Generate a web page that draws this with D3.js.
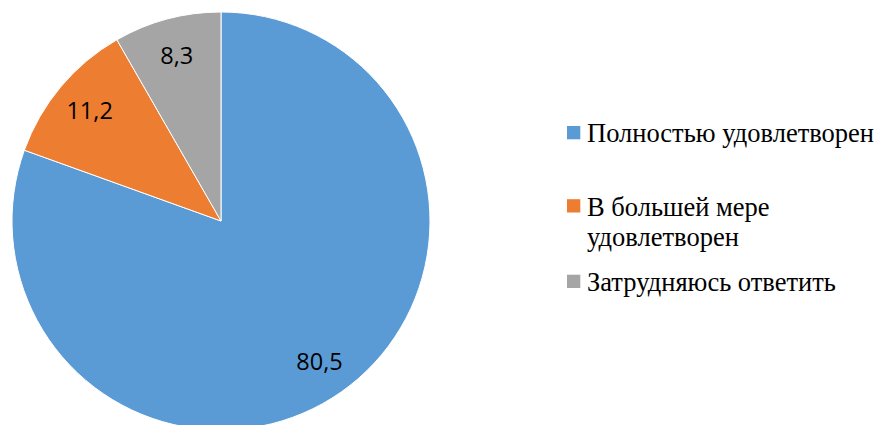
<!DOCTYPE html>
<html>
<head>
<meta charset="utf-8">
<script src="https://cdn.jsdelivr.net/npm/d3@7"></script>
<style>
html,body{margin:0;padding:0;background:#fff;}
svg{display:block;}
.legend text{font-family:"Liberation Serif","Times New Roman",serif;font-size:26.5px;}
.vlabel{font-family:"Open Sans",sans-serif;font-size:23.5px;}
</style>
</head>
<body>
<svg id="chart" width="879" height="425"></svg>
<script>
const categories = ["Полностью удовлетворен", "В большей мере удовлетворен", "Затрудняюсь ответить"];
const legendLines = [["Полностью удовлетворен"], ["В большей мере", "удовлетворен"], ["Затрудняюсь ответить"]];
const values = [80.5, 11.2, 8.3];
const valueLabels = ["80,5", "11,2", "8,3"];
const colors = ["#5B9BD5", "#ED7D31", "#A5A5A5"];

const svg = d3.select("#chart");
const cx = 221, cy = 221, r = 209;

const pie = d3.pie().sort(null).value(d => d)(values);
const arc = d3.arc().innerRadius(0).outerRadius(r);
const labelArc = d3.arc().innerRadius(r * 0.82).outerRadius(r * 0.82);

const g = svg.append("g").attr("transform", `translate(${cx},${cy})`);
g.selectAll("path").data(pie).join("path")
  .attr("d", arc)
  .attr("fill", (d, i) => colors[i])
  .attr("stroke", "#fff")
  .attr("stroke-width", 1);

g.selectAll("text").data(pie).join("text")
  .attr("class", "vlabel")
  .attr("transform", d => `translate(${labelArc.centroid(d)})`)
  .attr("text-anchor", "middle")
  .attr("dy", "0.36em")
  .attr("fill", "#000")
  .text((d, i) => valueLabels[i]);

const legendY = [142.3, 215.5, 291];
const lg = svg.append("g").attr("class", "legend");
categories.forEach((c, i) => {
  lg.append("rect").attr("x", 567).attr("y", legendY[i] - 16.3).attr("width", 13.3).attr("height", 13.3).attr("fill", colors[i]);
  const t = lg.append("text").attr("x", 587).attr("y", legendY[i]).attr("fill", "#000");
  legendLines[i].forEach((line, j) => {
    t.append("tspan").attr("x", 587).attr("dy", j === 0 ? 0 : 30).text(line);
  });
});
</script>
</body>
</html>
